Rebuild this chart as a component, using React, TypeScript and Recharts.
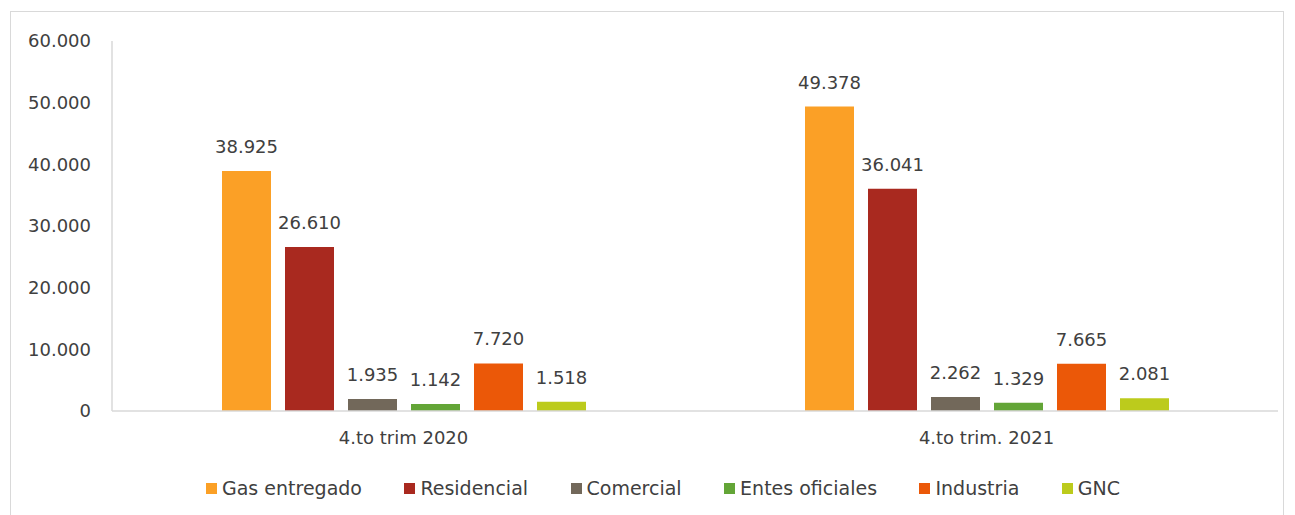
import React from "react";
import { BarChart, Bar, XAxis, YAxis, LabelList } from "recharts";

const categories = ["4.to trim 2020", "4.to trim. 2021"];
const seriesNames = ["Gas entregado", "Residencial", "Comercial", "Entes oficiales", "Industria", "GNC"];
const seriesKeys = ["gas", "res", "com", "ent", "ind", "gnc"];
const seriesColors = ["#FBA026", "#A9291F", "#72685A", "#63A537", "#EB5808", "#BCCB1C"];
const gasValues = [38925, 49378];
const resValues = [26610, 36041];
const comValues = [1935, 2262];
const entValues = [1142, 1329];
const indValues = [7720, 7665];
const gncValues = [1518, 2081];
const yTicks = [0, 10000, 20000, 30000, 40000, 50000, 60000];

const seriesValues = [gasValues, resValues, comValues, entValues, indValues, gncValues];
const data = categories.map((c, i) => {
  const row: Record<string, any> = { name: c };
  seriesKeys.forEach((k, j) => (row[k] = seriesValues[j][i]));
  return row;
});

const FONT = "'DejaVu Sans', sans-serif";
const TXT = "#404040";

const fmt = (v: number) =>
  v === 0 ? "0" : String(Math.round(v)).replace(/\B(?=(\d{3})+(?!\d))/g, ".");

const LegendBlock = () => (
  <div
    style={{
      position: "absolute",
      top: 477,
      left: 206,
      width: 914,
      display: "flex",
      justifyContent: "space-between",
      fontFamily: FONT,
      fontSize: 19,
      color: TXT,
      whiteSpace: "nowrap",
    }}
  >
    {seriesNames.map((n, i) => (
      <div key={n} style={{ display: "flex", alignItems: "center" }}>
        <span style={{ width: 11, height: 11, background: seriesColors[i], display: "inline-block", marginRight: 5 }} />
        <span>{n}</span>
      </div>
    ))}
  </div>
);

export default function App() {
  return (
    <div style={{ position: "absolute", left: 0, top: 0, width: 1295, height: 515, background: "#fff", overflow: "hidden" }}>
      <div
        style={{
          position: "absolute",
          left: 10,
          top: 11,
          width: 1274,
          height: 520,
          border: "1px solid #d9d9d9",
          boxSizing: "border-box",
        }}
      />
      <BarChart
        width={1295}
        height={515}
        data={data}
        margin={{ top: 41, right: 17, bottom: 74, left: 10 }}
        barCategoryGap={110}
        barGap={14}
        style={{ position: "absolute", left: 0, top: 0 }}
      >
        <XAxis
          dataKey="name"
          height={30}
          axisLine={{ stroke: "#d9d9d9", strokeWidth: 1.5 }}
          tickLine={false}
          tickSize={0}
          tickMargin={20}
          tick={{ fill: TXT, fontSize: 18, fontFamily: FONT }}
        />
        <YAxis
          width={102}
          domain={[0, 60000]}
          ticks={yTicks}
          interval={0}
          axisLine={{ stroke: "#d9d9d9", strokeWidth: 1.5 }}
          tickLine={false}
          tickSize={0}
          tickMargin={21}
          tickFormatter={fmt}
          tick={{ fill: TXT, fontSize: 18, fontFamily: FONT }}
        />
        {seriesKeys.map((k, i) => (
          <Bar key={k} dataKey={k} name={seriesNames[i]} fill={seriesColors[i]} isAnimationActive={false}>
            <LabelList
              dataKey={k}
              position="top"
              offset={18}
              formatter={(v: any) => fmt(Number(v))}
              style={{ fill: TXT, fontSize: 18, fontFamily: FONT }}
            />
          </Bar>
        ))}
      </BarChart>
      <LegendBlock />
    </div>
  );
}
